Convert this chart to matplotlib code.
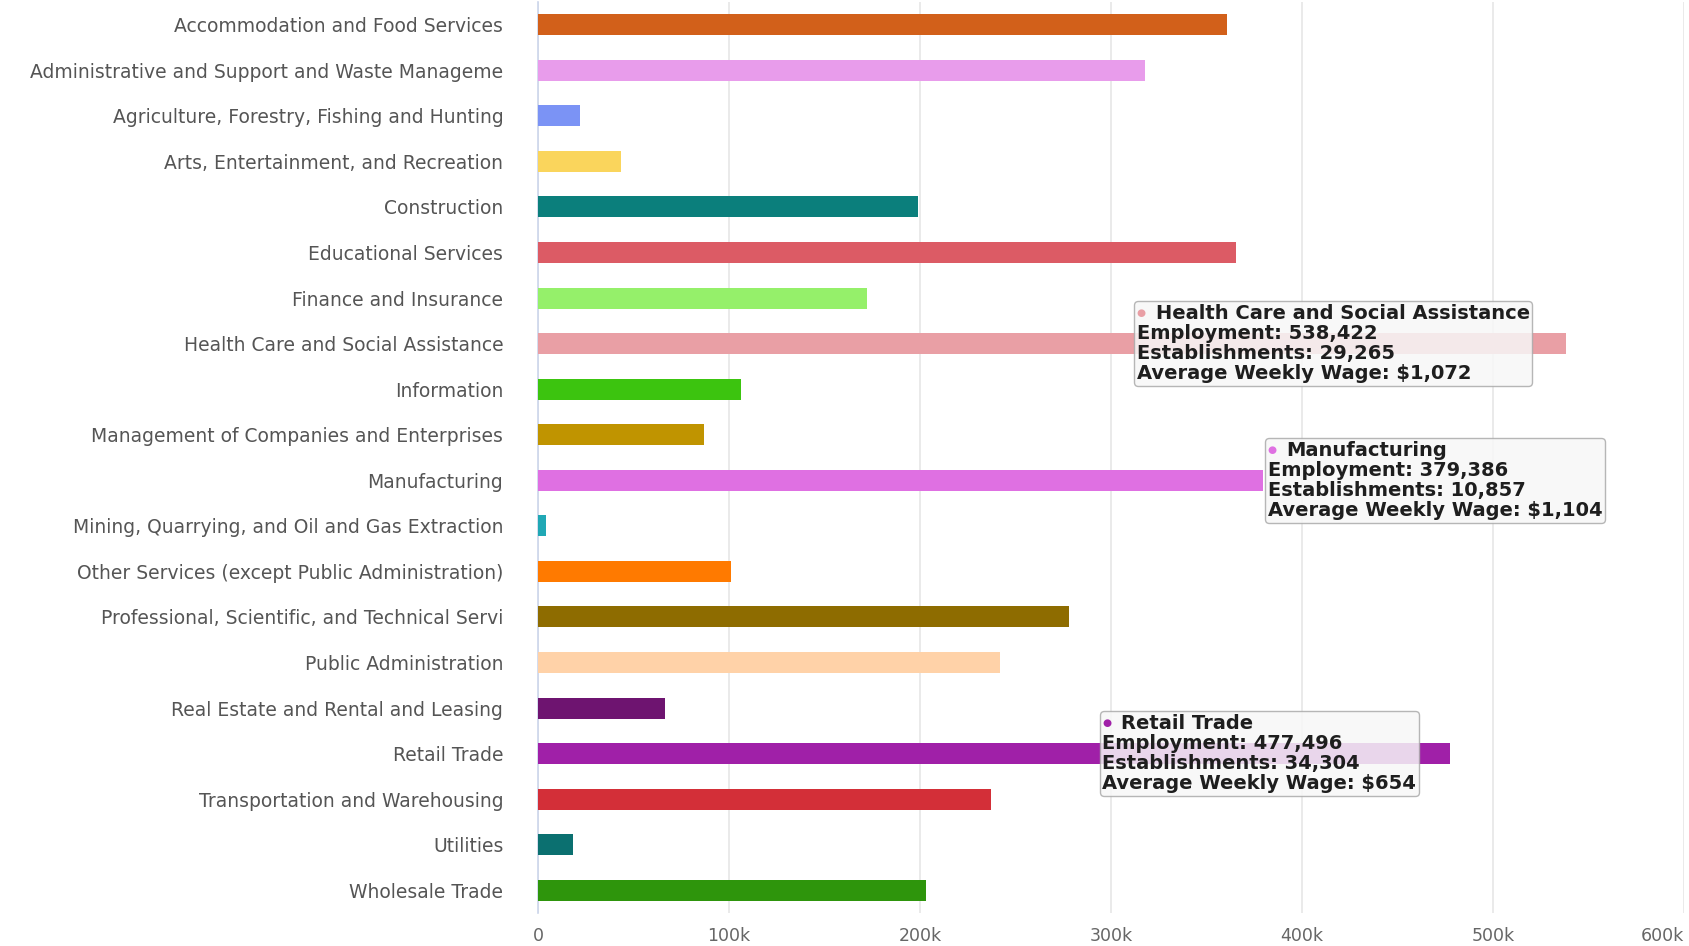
import matplotlib
matplotlib.use("Agg")
import matplotlib.pyplot as plt
from matplotlib.offsetbox import TextArea, HPacker, VPacker, AnnotationBbox

categories = [
    "Accommodation and Food Services",
    "Administrative and Support and Waste Manageme",
    "Agriculture, Forestry, Fishing and Hunting",
    "Arts, Entertainment, and Recreation",
    "Construction",
    "Educational Services",
    "Finance and Insurance",
    "Health Care and Social Assistance",
    "Information",
    "Management of Companies and Enterprises",
    "Manufacturing",
    "Mining, Quarrying, and Oil and Gas Extraction",
    "Other Services (except Public Administration)",
    "Professional, Scientific, and Technical Servi",
    "Public Administration",
    "Real Estate and Rental and Leasing",
    "Retail Trade",
    "Transportation and Warehousing",
    "Utilities",
    "Wholesale Trade",
]
employment = [
    360700, 317800, 21800, 43500, 198700, 365500, 172300, 538422, 106100, 87000,
    379386, 4000, 101000, 278000, 242000, 66400, 477496, 237300, 18300, 203300,
]
colors = [
    "#d2601a", "#e89ceb", "#7b93f5", "#fad55c", "#0b7f7c", "#dc5b65", "#95f06a",
    "#e99fa5", "#3cc40f", "#c09400", "#df70e2", "#20a8b5", "#ff7a00", "#8e6c00",
    "#ffd2a8", "#6e1470", "#a020a8", "#d32f38", "#0b7070", "#2e950c",
]
x_ticks = [0, 100000, 200000, 300000, 400000, 500000, 600000]
x_tick_labels = ["0", "100k", "200k", "300k", "400k", "500k", "600k"]

# Tooltip contents
tooltips = [
    ("Health Care and Social Assistance", "538,422", "29,265", "$1,072", 313500),
    ("Manufacturing", "379,386", "10,857", "$1,104", 382000),
    ("Retail Trade", "477,496", "34,304", "$654", 295500),
]

fig = plt.figure(figsize=(16.9, 9.46), dpi=100)
ax = fig.add_axes([538 / 1690, 33 / 946, 1146 / 1690, 911 / 946])

y = list(range(len(categories)))
ax.barh(y, employment, height=0.46, color=colors, zorder=3)
ax.set_ylim(len(categories) - 0.5, -0.5)
ax.set_xlim(0, 600000)

ax.set_yticks(y)
ax.set_yticklabels(categories, fontsize=13.5, color="#555555", family="DejaVu Sans")
ax.tick_params(axis="y", length=0, pad=25)
ax.set_xticks(x_ticks)
ax.set_xticklabels(x_tick_labels, fontsize=12.5, color="#666666")
ax.tick_params(axis="x", length=0, pad=10)
ax.get_xticklabels()[-1].set_horizontalalignment("right")

ax.grid(axis="x", color="#e6e6e6", linewidth=1.2, zorder=0)
for s in ["top", "right", "bottom"]:
    ax.spines[s].set_visible(False)
ax.spines["left"].set_color("#ccd6eb")
ax.spines["left"].set_linewidth(1.2)

for name, emp, est, wage, xpos in tooltips:
    idx = categories.index(name)
    fp = dict(fontsize=14, fontweight="bold", color="#1e1e1e")
    dot = TextArea("\u25cf", textprops=dict(fontsize=7.5, color=colors[idx]))
    title = TextArea(name, textprops=fp)
    row1 = HPacker(children=[dot, title], align="center", pad=0, sep=7)
    lines = [row1,
             TextArea(f"Employment: {emp}", textprops=fp),
             TextArea(f"Establishments: {est}", textprops=fp),
             TextArea(f"Average Weekly Wage: {wage}", textprops=fp)]
    box = VPacker(children=lines, align="left", pad=0, sep=0.8)
    ab = AnnotationBbox(box, (xpos, idx), xycoords="data", box_alignment=(0, 0.5),
                        frameon=True, pad=0.2, zorder=10,
                        bboxprops=dict(boxstyle="round,pad=0.2,rounding_size=0.3",
                                       facecolor="#f7f7f7", alpha=0.85,
                                       edgecolor="#aaaaaa", linewidth=1))
    ax.add_artist(ab)

fig.savefig("out.png", dpi=100)
